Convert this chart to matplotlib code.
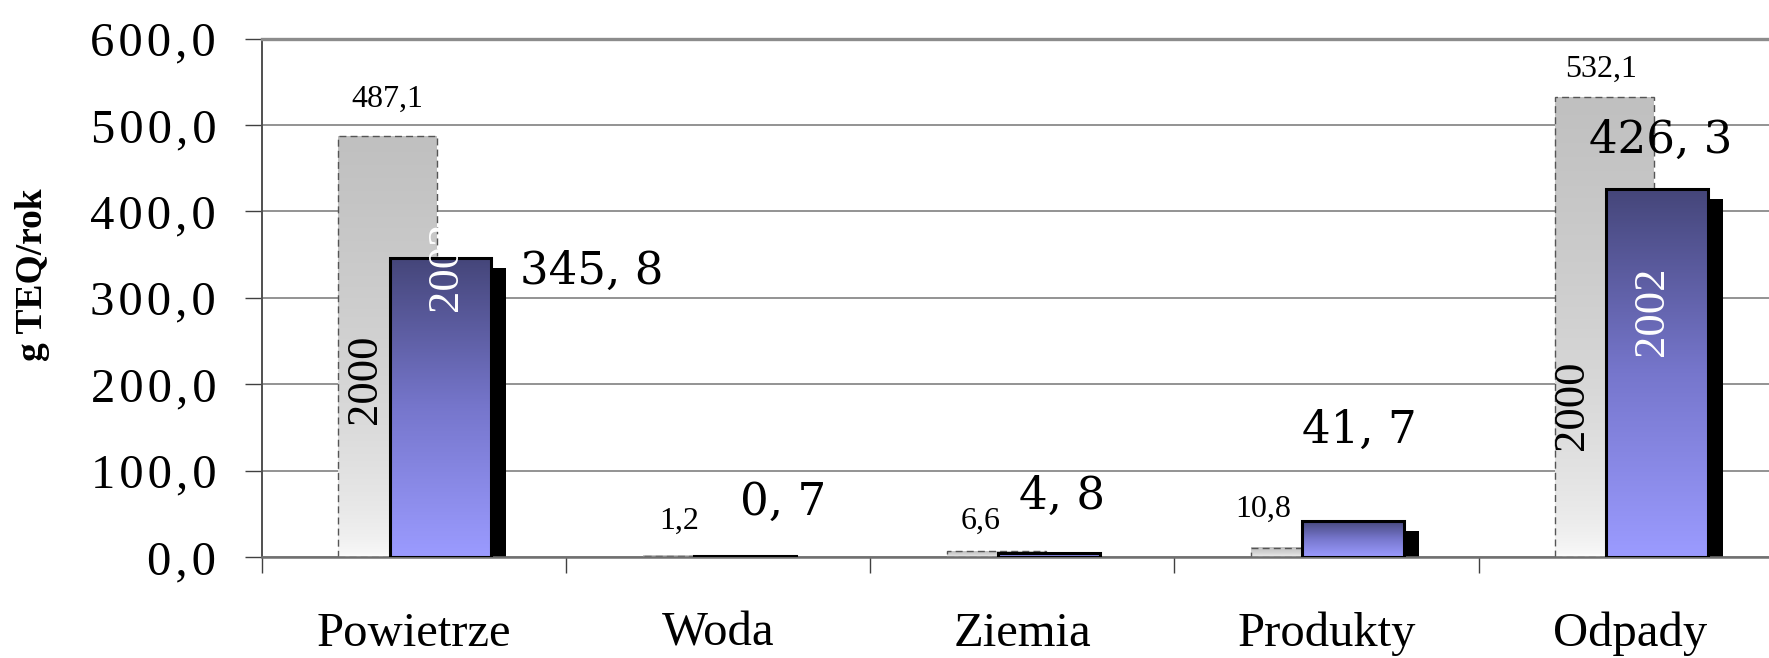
import numpy as np
import matplotlib.pyplot as plt
from matplotlib.patches import Rectangle
from matplotlib.transforms import ScaledTranslation
from matplotlib.colors import LinearSegmentedColormap
from matplotlib.ticker import FuncFormatter

categories = ["Powietrze", "Woda", "Ziemia", "Produkty", "Odpady"]
values_2000 = [487.1, 1.2, 6.6, 10.8, 532.1]
values_2002 = [345.8, 0.7, 4.8, 41.7, 426.3]
labels_2000 = ["487,1", "1,2", "6,6", "10,8", "532,1"]
labels_2002 = ["345, 8", "0, 7", "4, 8", "41, 7", "426, 3"]
y_ticks = [0, 100, 200, 300, 400, 500, 600]

# hand placed label offsets (pixels) as in the original
off_2002 = [(79, -26), (-5, 42), (-30, 44), (-51, 78), (-68, 36)]
off_2000 = [(-1, 29), (-13, 27), (-16, 22), (-37, 31), (-3, 20)]
# year tags written inside the two large bars: (category, x px offset, y in data units)
year_tags_2000 = [(0, -23, 206), (4, -32, 176)]
year_tags_2002 = [(0, 5, 336), (4, -5, 284)]

serif = ["Liberation Serif", "DejaVu Serif"]
W, H = 1769, 658
fig = plt.figure(figsize=(W / 100, H / 100), dpi=100)
ax = fig.add_axes([262 / W, 1 - 557 / H, 1 - 262 / W, (557 - 38.6) / H])

x = np.arange(len(categories))
x_2000 = x - 0.086
x_2002 = x + 0.087
w_2000 = 0.325
w_2002 = 0.335

gray_cmap = LinearSegmentedColormap.from_list("g", ["#fdfdfd", "#c0c0c0"])
blue_cmap = LinearSegmentedColormap.from_list("b", ["#9b9bff", "#7676cc", "#45467a"])

shadow_tr = ax.transData + ScaledTranslation(15 / 100, -10 / 100, fig.dpi_scale_trans)

for i in range(len(categories)):
    # 2000 bar: gray gradient, dashed outline
    g = np.linspace(1, 0, 200).reshape(-1, 1) ** 0.5
    ax.imshow(g, extent=(x_2000[i] - w_2000 / 2, x_2000[i] + w_2000 / 2, 0, values_2000[i]),
              cmap=gray_cmap, vmin=0, vmax=1, aspect="auto", origin="upper", zorder=2)
    ax.add_patch(Rectangle((x_2000[i] - w_2000 / 2, 0), w_2000, values_2000[i],
                           facecolor="none", edgecolor="#555555", lw=1.0,
                           linestyle=(0, (5, 3)), zorder=2.2))
    # 2002 bar: shadow, blue gradient, black outline
    ax.add_patch(Rectangle((x_2002[i] - w_2002 / 2, 0), w_2002, values_2002[i],
                           facecolor="black", edgecolor="none", transform=shadow_tr, zorder=2.5))
    b = np.linspace(1, 0, 200).reshape(-1, 1)
    ax.imshow(b, extent=(x_2002[i] - w_2002 / 2, x_2002[i] + w_2002 / 2, 0, values_2002[i]),
              cmap=blue_cmap, vmin=0, vmax=1, aspect="auto", origin="upper", zorder=3)
    ax.add_patch(Rectangle((x_2002[i] - w_2002 / 2, 0), w_2002, values_2002[i],
                           facecolor="none", edgecolor="black", lw=2.2, zorder=3.5))

    ax.annotate(labels_2002[i], xy=(x_2002[i], values_2002[i]), xytext=off_2002[i],
                textcoords="offset pixels", ha="left", va="baseline",
                family="DejaVu Serif", fontsize=32.5, zorder=5, annotation_clip=False)
    ax.annotate(labels_2000[i], xy=(x_2000[i], values_2000[i]), xytext=off_2000[i],
                textcoords="offset pixels", ha="center", va="baseline",
                family=serif, fontsize=23, zorder=5, annotation_clip=False)

for i, dx, yv in year_tags_2000:
    ax.annotate("2000", xy=(x_2000[i], yv), xytext=(dx, 0), textcoords="offset pixels",
                rotation=90, ha="center", va="center", family=serif, fontsize=32, zorder=5)
for i, dx, yv in year_tags_2002:
    ax.annotate("2002", xy=(x_2002[i], yv), xytext=(dx, 0), textcoords="offset pixels",
                rotation=90, ha="center", va="center", family=serif, fontsize=32,
                color="white", zorder=5)

ax.set_xlim(-0.5, 4.455)
ax.set_ylim(0, 600)


def spaced(v, pos):
    # the original tick labels are letter-spaced
    return "\u200a".join(f"{v:.1f}".replace(".", ","))


ax.set_yticks(y_ticks)
ax.yaxis.set_major_formatter(FuncFormatter(spaced))
ax.tick_params(axis="y", length=12, width=1, color="#404040", pad=21, labelsize=35)
for lab in ax.get_yticklabels():
    lab.set_family(serif)

ax.set_xticks(x)
ax.set_xticklabels(categories, family=serif, fontsize=35)
ax.set_xticks(np.arange(-0.5, 4.5, 1), minor=True)
ax.tick_params(axis="x", which="major", length=0, pad=64)
ax.tick_params(axis="x", which="minor", length=11.5, width=1, color="#404040")
for lab in ax.get_xticklabels():
    lab.set_va("baseline")

ax.yaxis.grid(True, color="#808080", lw=1.2)
ax.set_axisbelow(True)
ax.spines["right"].set_visible(False)
ax.spines["top"].set_color("#8c8c8c")
ax.spines["top"].set_linewidth(2.4)
ax.spines["left"].set_color("#505050")
ax.spines["left"].set_linewidth(1.4)
ax.spines["bottom"].set_color("#707070")
ax.spines["bottom"].set_linewidth(1.8)

fig.text(33 / W, 1 - 275 / H, "g TEQ/rok", rotation=90, ha="center", va="center",
         family=serif, fontweight="bold", fontsize=27)

fig.savefig("out.png", dpi=100)
